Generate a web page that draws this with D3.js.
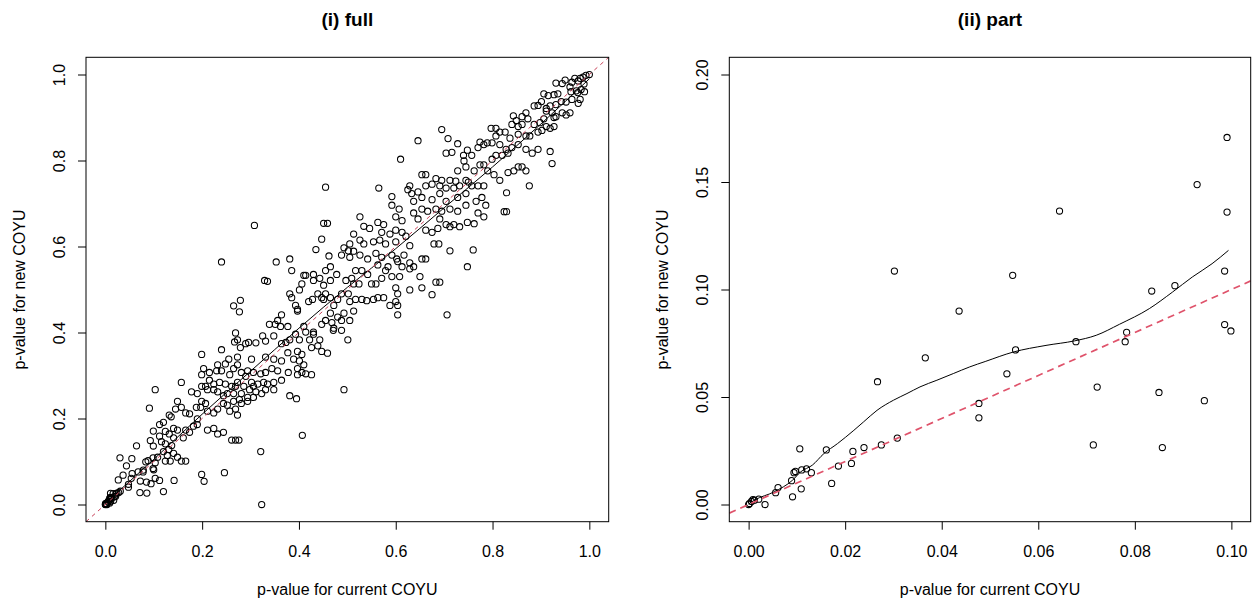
<!DOCTYPE html>
<html>
<head>
<meta charset="utf-8">
<script src="https://cdn.jsdelivr.net/npm/d3@7/dist/d3.min.js"></script>
<style>
  body { margin: 0; background: #fff; }
  text { font-family: "Liberation Sans", Arial, sans-serif; fill: #000; }
</style>
</head>
<body>
<script>
var svgWidth = 1257
var svgHeight = 605

// p-values, current p >= 0.1 (plus a couple above the part window)
var pointsHigh = [
  [1.0,1.0],[0.993,0.998],[0.987,0.994],[0.981,0.991],[0.977,0.985],[0.970,0.991],[0.964,0.982],[0.960,0.971],[0.950,0.987],[0.944,0.979],
  [0.989,0.978],[0.983,0.965],[0.973,0.962],[0.935,0.955],[0.927,0.953],[0.915,0.951],[0.906,0.955],[0.931,0.980],[0.990,0.960],[0.976,0.958],[0.962,0.960],
  [0.964,0.942],[0.952,0.936],[0.942,0.937],[0.931,0.930],[0.919,0.927],[0.927,0.900],[0.911,0.921],[0.894,0.928],[0.886,0.927],[0.977,0.933],
  [0.981,0.942],[0.960,0.911],[0.952,0.906],[0.944,0.911],[0.931,0.902],[0.923,0.911],[0.911,0.915],[0.901,0.937],[0.843,0.904],[0.869,0.911],[0.861,0.902],
  [0.906,0.897],[0.898,0.888],[0.886,0.884],[0.873,0.897],[0.861,0.884],[0.853,0.879],[0.840,0.884],[0.849,0.893],[0.911,0.879],[0.927,0.879],[0.919,0.875],
  [0.902,0.870],[0.894,0.866],[0.877,0.857],[0.869,0.857],[0.853,0.861],[0.836,0.852],[0.826,0.866],[0.815,0.866],[0.807,0.875],[0.797,0.875],[0.695,0.872],
  [0.646,0.846],[0.807,0.857],
  [0.708,0.851],[0.774,0.843],[0.782,0.837],[0.770,0.830],[0.789,0.841],[0.799,0.841],[0.815,0.837],[0.828,0.826],[0.840,0.830],[0.853,0.837],[0.869,0.826],
  [0.882,0.817],[0.894,0.826],[0.919,0.821],[0.923,0.793],[0.728,0.839],[0.716,0.819],[0.704,0.817],[0.748,0.824],[0.757,0.812],[0.740,0.812],[0.610,0.803],
  [0.807,0.812],[0.820,0.812],[0.799,0.803],[0.832,0.817],
  [0.741,0.799],[0.745,0.785],[0.728,0.776],[0.762,0.776],[0.774,0.790],[0.782,0.790],[0.790,0.776],[0.803,0.767],[0.815,0.754],[0.853,0.785],[0.844,0.776],
  [0.832,0.772],[0.861,0.785],[0.869,0.776],[0.654,0.767],[0.662,0.767],[0.683,0.758],[0.695,0.754],[0.712,0.754],[0.724,0.752],[0.745,0.754],
  [0.455,0.738],[0.565,0.736],[0.629,0.741],[0.625,0.732],[0.633,0.723],[0.646,0.727],[0.662,0.741],[0.675,0.745],[0.691,0.741],[0.704,0.736],[0.720,0.736],
  [0.732,0.741],[0.750,0.750],[0.757,0.741],[0.770,0.741],[0.782,0.741],[0.829,0.725],[0.876,0.741],[0.592,0.716],[0.637,0.705],[0.654,0.714],[0.675,0.709],
  [0.691,0.723],[0.704,0.705],[0.728,0.714],[0.745,0.723],[0.766,0.705],[0.778,0.714],[0.786,0.696],[0.745,0.696],
  [0.607,0.687],[0.592,0.696],[0.637,0.678],[0.654,0.687],[0.666,0.682],[0.683,0.687],[0.695,0.682],[0.712,0.687],[0.728,0.682],[0.824,0.681],[0.829,0.681],
  [0.770,0.678],[0.782,0.669],[0.748,0.656],[0.762,0.653],[0.704,0.651],[0.720,0.651],[0.691,0.664],[0.526,0.669],[0.451,0.654],[0.459,0.654],[0.563,0.656],
  [0.575,0.651],[0.600,0.669],[0.613,0.660],[0.646,0.664],
  [0.308,0.649],[0.534,0.647],[0.546,0.642],[0.571,0.633],[0.588,0.629],[0.600,0.638],[0.613,0.633],[0.526,0.615],[0.534,0.606],[0.554,0.611],[0.567,0.615],
  [0.579,0.606],[0.600,0.611],[0.621,0.624],[0.629,0.602],[0.662,0.638],[0.675,0.633],[0.687,0.642],[0.712,0.646],[0.732,0.646],[0.679,0.606],[0.689,0.606],
  [0.712,0.590],[0.760,0.592],[0.447,0.617],[0.513,0.629],[0.505,0.606],
  [0.493,0.597],[0.502,0.590],[0.513,0.589],[0.488,0.580],[0.505,0.575],[0.526,0.580],[0.542,0.571],[0.559,0.584],[0.571,0.575],[0.592,0.580],[0.602,0.571],
  [0.604,0.565],[0.617,0.580],[0.613,0.553],[0.629,0.562],[0.637,0.553],[0.654,0.571],[0.662,0.571],[0.584,0.553],[0.563,0.557],[0.240,0.564],[0.353,0.564],
  [0.462,0.578],[0.465,0.553],[0.435,0.593],[0.748,0.553],[0.455,0.544],[0.430,0.535],
  [0.381,0.571],[0.385,0.544],[0.410,0.533],[0.406,0.513],[0.414,0.533],[0.430,0.521],[0.443,0.526],[0.451,0.510],[0.465,0.521],[0.478,0.535],[0.497,0.521],
  [0.509,0.526],[0.517,0.544],[0.513,0.513],[0.524,0.513],[0.530,0.544],[0.542,0.535],[0.550,0.513],[0.559,0.513],[0.571,0.526],[0.579,0.544],[0.592,0.530],
  [0.608,0.530],[0.629,0.548],[0.650,0.530],[0.683,0.517],[0.691,0.517],[0.329,0.521],[0.335,0.519],[0.600,0.504],
  [0.381,0.490],[0.385,0.481],[0.401,0.499],[0.393,0.463],[0.397,0.454],[0.420,0.472],[0.428,0.477],[0.439,0.490],[0.447,0.481],[0.455,0.490],[0.451,0.477],
  [0.465,0.481],[0.472,0.463],[0.480,0.477],[0.488,0.490],[0.502,0.490],[0.505,0.472],[0.517,0.477],[0.530,0.477],[0.540,0.474],[0.554,0.477],[0.563,0.481],
  [0.575,0.481],[0.600,0.472],[0.604,0.490],[0.588,0.463],[0.604,0.463],[0.675,0.488],[0.629,0.499],[0.654,0.504],[0.279,0.475],
  [0.265,0.462],[0.277,0.448],[0.364,0.441],[0.356,0.428],[0.351,0.419],[0.339,0.419],[0.397,0.450],[0.410,0.414],[0.430,0.401],[0.447,0.419],[0.455,0.428],
  [0.465,0.445],[0.468,0.423],[0.472,0.410],[0.480,0.436],[0.488,0.428],[0.493,0.445],[0.505,0.428],[0.513,0.450],[0.471,0.405],[0.488,0.405],[0.706,0.441],
  [0.604,0.441],[0.377,0.414],[0.362,0.414],
  [0.269,0.399],[0.267,0.378],[0.273,0.383],[0.279,0.365],[0.290,0.374],[0.296,0.377],[0.311,0.376],[0.240,0.360],[0.325,0.392],[0.331,0.380],[0.348,0.392],
  [0.364,0.374],[0.373,0.377],[0.381,0.383],[0.393,0.396],[0.401,0.383],[0.414,0.401],[0.422,0.383],[0.430,0.396],[0.443,0.383],[0.439,0.369],[0.447,0.356],
  [0.459,0.352],[0.501,0.383],[0.377,0.353],[0.397,0.356],[0.406,0.349],[0.426,0.365],[0.199,0.349],[0.232,0.325],
  [0.248,0.327],[0.255,0.338],[0.273,0.343],[0.265,0.316],[0.273,0.325],[0.302,0.338],[0.331,0.343],[0.348,0.338],[0.364,0.334],[0.389,0.338],[0.401,0.334],
  [0.410,0.325],[0.397,0.316],[0.414,0.304],[0.426,0.302],[0.397,0.302],[0.406,0.307],[0.378,0.307],[0.356,0.311],[0.344,0.316],[0.331,0.307],[0.321,0.304],
  [0.306,0.307],[0.294,0.311],[0.281,0.307],[0.240,0.311],[0.203,0.316],[0.199,0.302],[0.215,0.307],[0.230,0.311],[0.257,0.302],[0.273,0.284],[0.290,0.298],
  [0.236,0.284],
  [0.215,0.289],[0.199,0.275],[0.207,0.275],[0.224,0.280],[0.248,0.280],[0.261,0.275],[0.269,0.275],[0.286,0.275],[0.302,0.284],[0.315,0.280],[0.327,0.284],
  [0.335,0.280],[0.348,0.284],[0.364,0.289],[0.306,0.275],[0.298,0.267],[0.311,0.262],[0.323,0.258],[0.331,0.267],[0.348,0.267],[0.211,0.267],[0.224,0.267],
  [0.190,0.258],[0.178,0.262],[0.157,0.284],[0.103,0.267],[0.232,0.262],[0.244,0.253],[0.252,0.258],[0.265,0.258],[0.281,0.258],[0.294,0.249],[0.306,0.249],
  [0.493,0.267],[0.381,0.253],[0.395,0.246],
  [0.199,0.240],[0.188,0.226],[0.197,0.226],[0.207,0.235],[0.224,0.213],[0.232,0.222],[0.211,0.217],[0.244,0.235],[0.252,0.231],[0.257,0.217],[0.269,0.222],
  [0.273,0.208],[0.281,0.235],[0.294,0.240],[0.277,0.244],[0.265,0.240],[0.174,0.211],[0.166,0.213],[0.149,0.240],[0.145,0.222],[0.157,0.226],[0.132,0.208],
  [0.136,0.204],[0.091,0.224],[0.190,0.199],
  [0.112,0.186],[0.120,0.191],[0.124,0.170],[0.132,0.164],[0.141,0.177],[0.149,0.173],[0.166,0.173],[0.161,0.155],[0.174,0.168],[0.182,0.182],[0.190,0.186],
  [0.211,0.173],[0.224,0.177],[0.232,0.164],[0.244,0.168],[0.261,0.150],[0.269,0.150],[0.276,0.150],[0.407,0.161],[0.112,0.159],[0.141,0.155],[0.116,0.146],
  [0.124,0.141],[0.131,0.128],[0.120,0.123],[0.128,0.114],[0.137,0.137],[0.141,0.119],[0.149,0.110],[0.157,0.101],[0.166,0.101],[0.124,0.101],[0.134,0.101],
  [0.108,0.110],[0.103,0.097],[0.321,0.123],
  [0.103,0.061],[0.112,0.056],[0.120,0.030],[0.142,0.056],[0.199,0.070],[0.204,0.054],[0.246,0.074],[0.323,0.0]
];

// p-values (ii), current p < 0.1
var pointsLow = [
  [0.0991,0.1707],[0.0929,0.1488],[0.0991,0.1360],[0.0644,0.1365],[0.0302,0.1086],[0.0547,0.1066],[0.0986,0.1086],[0.0835,0.0993],
  [0.0883,0.1018],[0.0436,0.0900],[0.0986,0.0837],[0.0999,0.0807],[0.0783,0.0801],[0.0780,0.0757],[0.0678,0.0757],[0.0553,0.0719],
  [0.0366,0.0682],[0.0535,0.0608],[0.0267,0.0571],[0.0722,0.0546],[0.0850,0.0521],[0.0944,0.0483],[0.0477,0.0470],[0.0477,0.0403],
  [0.0308,0.0309],[0.0714,0.0277],[0.0857,0.0265],[0.0275,0.0277],[0.0239,0.0265],[0.0161,0.0254],[0.0106,0.0259],[0.0216,0.0247],
  [0.0213,0.0191],[0.0186,0.0179],[0.0172,0.0098],[0.0120,0.0166],[0.0110,0.0161],[0.0130,0.0148],[0.0097,0.0154],[0.0094,0.0148],
  [0.0089,0.0111],[0.0109,0.0073],[0.0091,0.0036],[0.0061,0.0079],[0.0056,0.0055],[0.0034,0.0000],[0.0021,0.0025],[0.0009,0.0023],
  [0.0006,0.0014],[0.0002,0.0005],[0.0000,0.0000],[0.0012,0.0020]
];

// smoothed curves
var smoothFull = [
  [0.0,0.003],[0.1,0.105],[0.2,0.21],[0.3,0.31],[0.4,0.41],[0.5,0.505],[0.6,0.595],[0.7,0.69],[0.8,0.785],[0.9,0.885],[1.0,0.99]
];
var smoothPart = [
  [0.0,0.0002],[0.0012,0.0020],[0.0053,0.0059],[0.0091,0.0113],[0.0108,0.0152],[0.0132,0.0183],[0.0156,0.0237],[0.0184,0.0283],
  [0.0218,0.0345],[0.0238,0.0384],[0.0266,0.0438],[0.0300,0.0485],[0.0328,0.0516],[0.0355,0.0547],[0.0390,0.0578],[0.0424,0.0609],
  [0.0458,0.0640],[0.0490,0.0665],[0.0548,0.0709],[0.0616,0.0740],[0.0675,0.0761],[0.0720,0.0787],[0.0768,0.0838],[0.0830,0.0911],
  [0.0878,0.0988],[0.0919,0.1058],[0.0960,0.1120],[0.0994,0.1182]
];

var fullTicks = [0, 0.2, 0.4, 0.6, 0.8, 1.0];
var partXTicks = [0, 0.02, 0.04, 0.06, 0.08, 0.10];
var partYTicks = [0, 0.05, 0.10, 0.15, 0.20];

var allPoints = pointsHigh.concat(pointsLow);

var panels = [
  { title: "(i) full", left: 86, right: 608.7, top: 57.3, bottom: 521.7,
    xDomain: [-0.04, 1.04], yDomain: [-0.04, 1.04], xTicks: fullTicks, yTicks: fullTicks, fmt: ".1f",
    points: allPoints, smooth: smoothFull, refColor: "#c8435a", refWidth: 1, refDash: "4,4" },
  { title: "(ii) part", left: 729.3, right: 1250.7, top: 57.3, bottom: 521.7,
    xDomain: [-0.004, 0.104], yDomain: [-0.008, 0.208], xTicks: partXTicks, yTicks: partYTicks, fmt: ".2f",
    points: allPoints.filter(d => d[0] <= 0.1 && d[1] <= 0.2), smooth: smoothPart, refColor: "#df536b", refWidth: 1.7, refDash: "7,5" }
];

var svg = d3.select("body").append("svg").attr("width", svgWidth).attr("height", svgHeight);

panels.forEach(function(p, i) {
  var x = d3.scaleLinear().domain(p.xDomain).range([p.left, p.right]);
  var y = d3.scaleLinear().domain(p.yDomain).range([p.bottom, p.top]);
  var cx = (p.left + p.right) / 2, cy = (p.top + p.bottom) / 2;
  var g = svg.append("g");

  var clipId = "clip" + i;
  svg.append("clipPath").attr("id", clipId).append("rect")
    .attr("x", p.left).attr("y", p.top).attr("width", p.right - p.left).attr("height", p.bottom - p.top);

  var plot = g.append("g").attr("clip-path", `url(#${clipId})`);

  // points
  plot.selectAll("circle").data(p.points).enter().append("circle")
    .attr("cx", d => x(d[0])).attr("cy", d => y(d[1])).attr("r", 3.1)
    .attr("fill", "none").attr("stroke", "#000").attr("stroke-width", 1.05);

  // smooth curve
  plot.append("path").datum(p.smooth)
    .attr("d", d3.line().x(d => x(d[0])).y(d => y(d[1])).curve(d3.curveMonotoneX))
    .attr("fill", "none").attr("stroke", "#000").attr("stroke-width", 1);

  // y = x reference line
  plot.append("line")
    .attr("x1", x(p.xDomain[0])).attr("y1", y(p.xDomain[0]))
    .attr("x2", x(p.xDomain[1])).attr("y2", y(p.xDomain[1]))
    .attr("stroke", p.refColor).attr("stroke-width", p.refWidth).attr("stroke-dasharray", p.refDash);

  // box
  g.append("rect").attr("x", p.left).attr("y", p.top)
    .attr("width", p.right - p.left).attr("height", p.bottom - p.top)
    .attr("fill", "none").attr("stroke", "#000").attr("stroke-width", 1);

  // axes
  var xAxis = g.append("g").attr("transform", `translate(0,${p.bottom})`)
    .call(d3.axisBottom(x).tickValues(p.xTicks).tickFormat(d3.format(p.fmt)).tickSize(8).tickSizeOuter(0));
  var yAxis = g.append("g").attr("transform", `translate(${p.left},0)`)
    .call(d3.axisLeft(y).tickValues(p.yTicks).tickFormat(d3.format(p.fmt)).tickSize(8).tickSizeOuter(0));
  [xAxis, yAxis].forEach(function(a) {
    a.select(".domain").remove();
    a.selectAll("line").attr("stroke", "#000");
    a.selectAll("text").attr("font-size", 16).attr("font-family", "Liberation Sans, Arial, sans-serif").attr("fill", "#222");
  });
  xAxis.selectAll("text").attr("y", 35).attr("dy", 0);
  yAxis.selectAll("text").attr("x", 0).attr("y", -21).attr("dy", 0)
    .attr("text-anchor", "middle").attr("transform", "rotate(-90)");

  // titles
  g.append("text").attr("x", cx).attr("y", 26).attr("text-anchor", "middle")
    .attr("font-size", 19).attr("font-weight", "bold").text(p.title);
  g.append("text").attr("x", cx).attr("y", 595).attr("text-anchor", "middle")
    .attr("font-size", 16).attr("fill", "#222").text("p-value for current COYU");
  g.append("text").attr("transform", `translate(${p.left - 61},${cy}) rotate(-90)`)
    .attr("text-anchor", "middle").attr("font-size", 16).attr("fill", "#222").text("p-value for new COYU");
});
</script>
</body>
</html>
